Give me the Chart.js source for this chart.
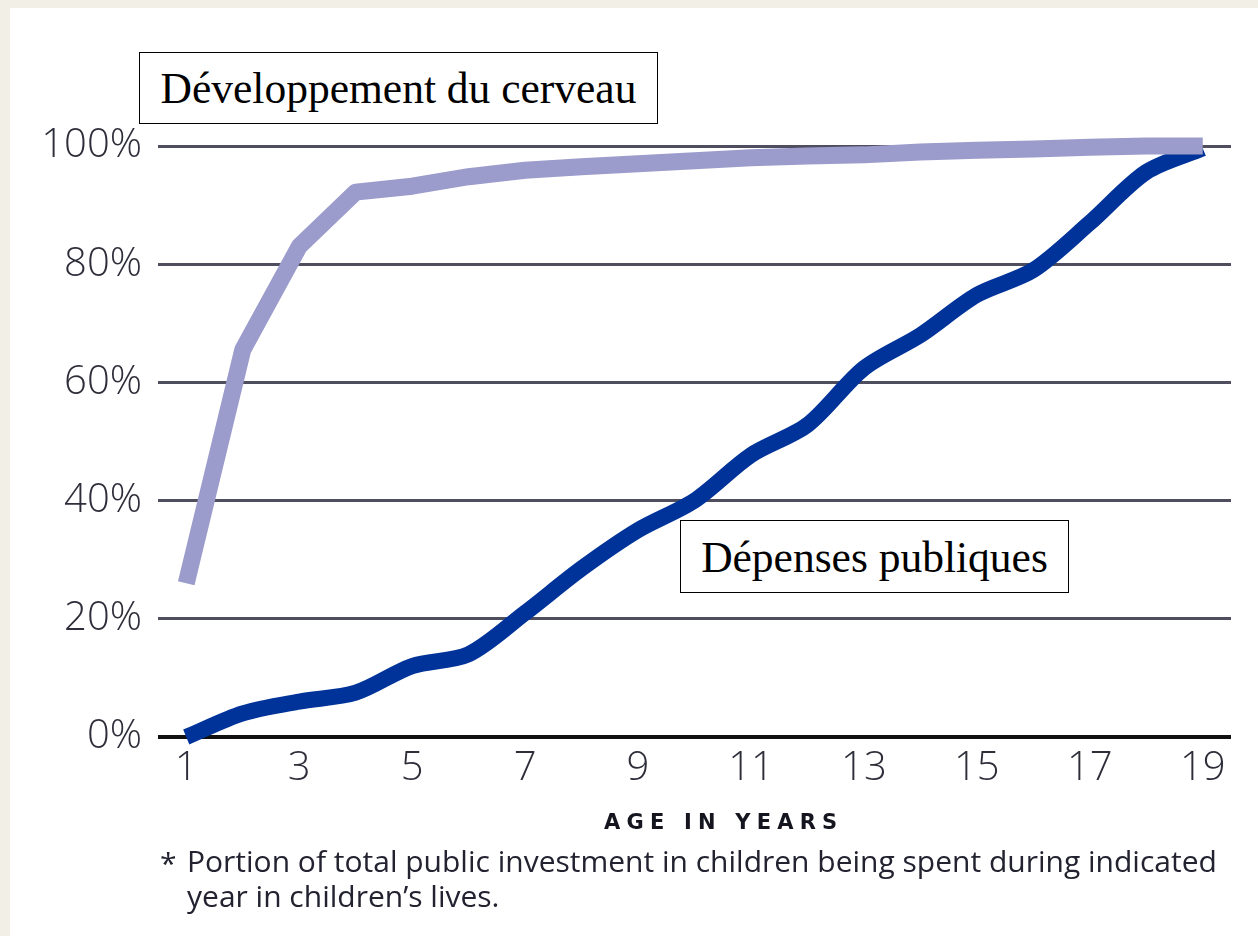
<!DOCTYPE html>
<html>
<head>
<meta charset="utf-8">
<script src="https://cdn.jsdelivr.net/npm/chart.js@4.4.1/dist/chart.umd.min.js"></script>
<style>
  html, body { margin: 0; padding: 0; }
  body { width: 1258px; height: 936px; background: #f2efe6; position: relative; overflow: hidden; }
  #panel { position: absolute; left: 10px; top: 8px; width: 1248px; height: 928px; background: #ffffff; }
  #c { position: absolute; left: 0; top: 0; }
  .box { position: absolute; border: 1.5px solid #000; background: #fff; font-family: "Liberation Serif", "Times New Roman", serif; color: #000; white-space: nowrap; box-sizing: border-box; display: flex; align-items: center; justify-content: center; }
  .note { position: absolute; font-family: "Open Sans", sans-serif; color: #222230; white-space: nowrap; line-height: 1; }
  #xtitle { position: absolute; font-family: "DejaVu Sans", sans-serif; font-weight: bold; font-size: 21px; letter-spacing: 6.2px; color: #151520; white-space: nowrap; line-height: 1; }
</style>
</head>
<body>
<div id="panel"><canvas id="c" width="1248" height="928"></canvas></div>
<div class="box" id="box1" style="left:139px; top:52px; width:519px; height:72px; font-size:43.5px;">Développement du cerveau</div>
<div class="box" id="box2" style="left:680px; top:520px; width:389px; height:73px; font-size:43.5px;">Dépenses publiques</div>
<div id="xtitle" style="left:604px; top:812px;">AGE IN YEARS</div>
<div class="note" style="left:160px; top:848px; font-size:30px;">*</div>
<div class="note" id="fn1" style="left:187px; top:846px; font-size:30px;">Portion of total public investment in children being spent during indicated</div>
<div class="note" id="fn2" style="left:187px; top:881px; font-size:30px;">year in children’s lives.</div>
<script>
const ages = [1,2,3,4,5,6,7,8,9,10,11,12,13,14,15,16,17,18,19];
const brainDevelopment = [26,65.5,83,92.2,93.2,94.8,95.9,96.5,97,97.5,98,98.3,98.5,99,99.3,99.5,99.8,100,100];
const publicSpending = [0,4,6,7.5,12,14,21,28.5,35,40,47.7,52.8,62.4,68,74.8,79,87,95.6,99.6];
const xTickValues = [1,3,5,7,9,11,13,15,17,19];
const yTickValues = [0,20,40,60,80,100];
const seriesNames = ["Développement du cerveau", "Dépenses publiques"];

const tickFont = { family: "'Open Sans', sans-serif", size: 40, weight: '300' };
const tickColor = '#2e2e3a';

new Chart(document.getElementById('c'), {
  type: 'line',
  data: {
    datasets: [
      {
        label: seriesNames[0],
        data: ages.map((a, i) => ({ x: a, y: brainDevelopment[i] })),
        borderColor: '#9b9bcc',
        borderWidth: 17,
        tension: 0,
        pointRadius: 0,
        borderJoinStyle: 'round',
        clip: false
      },
      {
        label: seriesNames[1],
        data: ages.map((a, i) => ({ x: a, y: publicSpending[i] })),
        borderColor: '#003399',
        borderWidth: 16,
        tension: 0.3,
        pointRadius: 0,
        borderJoinStyle: 'round',
        clip: false
      }
    ]
  },
  options: {
    responsive: false,
    animation: false,
    layout: { padding: { left: 0, right: 27, top: 138, bottom: 119 } },
    plugins: { legend: { display: false }, tooltip: { enabled: false }, title: { display: false } },
    scales: {
      x: {
        type: 'linear',
        min: 0.5,
        max: 19.5,
        afterBuildTicks: (s) => { s.ticks = xTickValues.map(v => ({ value: v })); },
        afterFit: (s) => { s.height = 80; },
        grid: { display: false, drawTicks: false },
        border: { display: false },
        ticks: { font: tickFont, color: tickColor, padding: 8, maxRotation: 0, autoSkip: false, callback: (v) => String(v) }
      },
      y: {
        min: 0,
        max: 100,
        afterBuildTicks: (s) => { s.ticks = yTickValues.map(v => ({ value: v })); },
        afterFit: (s) => { s.width = 148; },
        grid: {
          drawTicks: false,
          color: (ctx) => ctx.tick && ctx.tick.value === 0 ? '#111111' : '#4e4e5e',
          lineWidth: (ctx) => ctx.tick && ctx.tick.value === 0 ? 4 : 3
        },
        border: { display: false },
        ticks: { font: tickFont, color: tickColor, padding: 16, callback: (v) => v + '%' }
      }
    }
  }
});
</script>
</body>
</html>
